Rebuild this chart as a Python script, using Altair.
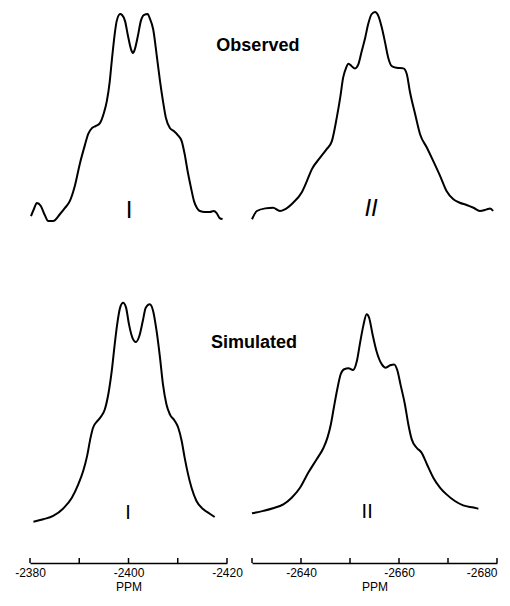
import altair as alt
import pandas as pd

FONT = "Liberation Sans"

# Observed, site I (ppm, relative intensity)
obs1_ppm = [-2380.2, -2380.8, -2381.4, -2382.2, -2383.0, -2383.7, -2384.7, -2386.1, -2387.1, -2388.1,
            -2389.1, -2390.1, -2391.2, -2391.8, -2392.6, -2393.4, -2394.2, -2395.0, -2395.6, -2396.2,
            -2396.6, -2397.2, -2397.6, -2398.3, -2398.7, -2399.3, -2399.9, -2400.5, -2400.9, -2401.3,
            -2401.9, -2402.5, -2403.1, -2403.9, -2404.3, -2405.0, -2405.8, -2406.4, -2407.0, -2407.6,
            -2408.4, -2409.2, -2410.0, -2410.8, -2411.4, -2412.0, -2412.7, -2413.3, -2413.9, -2414.5,
            -2415.5, -2416.5, -2417.3, -2417.9, -2418.5, -2419.1]
obs1_int = [-0.005, 0.03, 0.06, 0.045, 0.0, -0.03, -0.03, 0.005, 0.035, 0.07,
            0.144, 0.252, 0.351, 0.401, 0.431, 0.441, 0.455, 0.505, 0.564, 0.663,
            0.762, 0.896, 0.96, 0.995, 0.99, 0.96, 0.886, 0.822, 0.802, 0.822,
            0.886, 0.96, 0.99, 0.995, 0.975, 0.921, 0.777, 0.663, 0.564, 0.48,
            0.431, 0.416, 0.396, 0.366, 0.302, 0.218, 0.134, 0.069, 0.035, 0.02,
            0.015, 0.015, 0.02, 0.01, -0.015, -0.02]

# Observed, site II
obs2_ppm = [-2630.0, -2631.0, -2632.7, -2634.3, -2635.7, -2636.7, -2638.4, -2640.1, -2641.2, -2642.2,
            -2643.9, -2645.2, -2646.3, -2647.3, -2648.0, -2648.6, -2649.2, -2649.7, -2650.3, -2651.0,
            -2651.7, -2652.4, -2653.1, -2653.7, -2654.4, -2655.1, -2655.8, -2656.5, -2657.1, -2657.8,
            -2658.5, -2659.5, -2660.9, -2661.6, -2662.2, -2663.3, -2664.3, -2665.7, -2667.0, -2668.4,
            -2669.7, -2671.1, -2672.4, -2673.8, -2675.2, -2676.5, -2677.9, -2678.6, -2679.2]
obs2_int = [-0.021, 0.02, 0.033, 0.036, 0.02, 0.028, 0.061, 0.11, 0.168, 0.226,
            0.284, 0.325, 0.366, 0.482, 0.581, 0.68, 0.729, 0.749, 0.738, 0.726,
            0.746, 0.812, 0.878, 0.944, 0.994, 1.005, 0.985, 0.927, 0.861, 0.779,
            0.738, 0.729, 0.726, 0.697, 0.614, 0.499, 0.4, 0.333, 0.267, 0.193,
            0.119, 0.078, 0.061, 0.05, 0.036, 0.02, 0.028, 0.033, 0.02]

# Simulated, site I
sim1_ppm = [-2380.7, -2382.7, -2384.7, -2386.8, -2388.5, -2389.8, -2390.8, -2391.6, -2392.3, -2392.8,
            -2393.7, -2394.5, -2395.2, -2395.9, -2396.6, -2397.2, -2397.7, -2398.3, -2398.9, -2399.5,
            -2400.1, -2400.8, -2401.5, -2402.2, -2402.9, -2403.5, -2404.3, -2405.0, -2405.7, -2406.4,
            -2407.0, -2407.7, -2408.4, -2409.4, -2410.1, -2410.8, -2411.4, -2412.1, -2412.8, -2413.8,
            -2415.2, -2416.5, -2417.5]
sim1_int = [0.006, 0.017, 0.032, 0.067, 0.115, 0.176, 0.236, 0.305, 0.388, 0.433,
            0.464, 0.486, 0.517, 0.585, 0.691, 0.812, 0.903, 0.979, 1.001, 0.979,
            0.903, 0.842, 0.823, 0.85, 0.918, 0.979, 0.994, 0.964, 0.873, 0.751,
            0.63, 0.54, 0.494, 0.464, 0.433, 0.373, 0.297, 0.221, 0.16, 0.1,
            0.062, 0.042, 0.027]

# Simulated, site II
sim2_ppm = [-2630.0, -2632.3, -2634.3, -2636.4, -2638.1, -2639.8, -2641.5, -2643.2, -2644.6, -2645.4,
            -2646.1, -2646.7, -2647.4, -2648.1, -2648.8, -2649.7, -2650.6, -2651.4, -2652.0, -2652.7,
            -2653.4, -2653.9, -2654.6, -2655.4, -2656.5, -2657.3, -2658.2, -2659.0, -2659.7, -2660.3,
            -2661.2, -2661.9, -2662.6, -2663.6, -2664.6, -2665.7, -2667.0, -2668.4, -2669.7, -2671.4,
            -2673.1, -2675.2, -2676.2]
sim2_int = [0.044, 0.055, 0.067, 0.085, 0.115, 0.16, 0.229, 0.29, 0.342, 0.388,
            0.449, 0.524, 0.608, 0.676, 0.699, 0.703, 0.695, 0.736, 0.812, 0.895,
            0.949, 0.933, 0.858, 0.782, 0.721, 0.706, 0.717, 0.721, 0.691, 0.63,
            0.54, 0.449, 0.38, 0.342, 0.32, 0.267, 0.206, 0.16, 0.13, 0.1,
            0.08, 0.07, 0.065]

left_ticks = [-2380, -2390, -2400, -2410, -2420]
left_labels = [-2380, -2400, -2420]
right_ticks = [-2630, -2640, -2650, -2660, -2670, -2680]
right_labels = [-2640, -2660, -2680]

W_L, W_R = 197, 245
H_TOP, H_BOT = 222, 322

xs_left = alt.Scale(domain=[-2420, -2380], reverse=True, nice=False, zero=False)
xs_right = alt.Scale(domain=[-2680, -2630], reverse=True, nice=False, zero=False)
ys_top = alt.Scale(domain=[-0.079, 1.02], nice=False, zero=False)
ys_bot = alt.Scale(domain=[-0.182, 1.282], nice=False, zero=False)


def curve(ppm, inten, xs, ys, axis):
    df = pd.DataFrame({"ppm": ppm, "intensity": inten})
    return alt.Chart(df).mark_line(color="black", strokeWidth=2, interpolate="monotone").encode(
        x=alt.X("ppm:Q", scale=xs, axis=axis),
        y=alt.Y("intensity:Q", scale=ys, axis=None),
        order="ppm:Q",
    )


def label(ppm, inten, text, xs, ys, size, style="normal", weight="normal"):
    df = pd.DataFrame({"ppm": [ppm], "intensity": [inten], "t": [text]})
    return alt.Chart(df).mark_text(font=FONT, fontSize=size, fontStyle=style, fontWeight=weight,
                                   color="black", align="center", baseline="middle").encode(
        x=alt.X("ppm:Q", scale=xs), y=alt.Y("intensity:Q", scale=ys), text="t:N")


def xaxis(values, flush):
    return alt.Axis(values=values, labelExpr="toString(datum.value)", ticks=False, grid=False,
                    domain=True, domainColor="black", domainWidth=1.5, labelFlush=flush,
                    labelFont=FONT, labelFontSize=12, labelColor="black", labelPadding=4,
                    title="PPM", titleFont=FONT, titleFontSize=12, titleFontWeight="normal",
                    titleColor="black", titlePadding=3)


def ticks(values, xs):
    df = pd.DataFrame({"ppm": values})
    return alt.Chart(df).mark_rule(color="black", strokeWidth=1.5).encode(
        x=alt.X("ppm:Q", scale=xs), y=alt.value(H_BOT - 5), y2=alt.value(H_BOT))


tl = alt.layer(
    curve(obs1_ppm, obs1_int, xs_left, ys_top, None),
    label(-2400.1, 0.02, "I", xs_left, ys_top, 24),
).properties(width=W_L, height=H_TOP)

tr = alt.layer(
    curve(obs2_ppm, obs2_int, xs_right, ys_top, None),
    label(-2654.3, 0.03, "II", xs_right, ys_top, 24, style="italic"),
    label(-2631.2, 0.837, "Observed", xs_right, ys_top, 18, weight="bold"),
).properties(width=W_R, height=H_TOP)

bl = alt.layer(
    curve(sim1_ppm, sim1_int, xs_left, ys_bot, xaxis(left_labels, False)),
    ticks(left_ticks, xs_left),
    label(-2399.9, 0.045, "I", xs_left, ys_bot, 20),
).properties(width=W_L, height=H_BOT)

br = alt.layer(
    curve(sim2_ppm, sim2_int, xs_right, ys_bot, xaxis(right_labels, True)),
    ticks(right_ticks, xs_right),
    label(-2653.5, 0.05, "II", xs_right, ys_bot, 20),
    label(-2630.4, 0.818, "Simulated", xs_right, ys_bot, 18, weight="bold"),
).properties(width=W_R, height=H_BOT)

chart = alt.concat(tl, tr, bl, br, columns=2, spacing={"row": 10, "column": 25}, bounds="flush").properties(
    padding={"left": 6, "top": 0, "right": 0, "bottom": 0},
    background="white",
).configure_view(strokeWidth=0)

chart.save("out.html", embed_options={"renderer": "svg", "actions": False})
